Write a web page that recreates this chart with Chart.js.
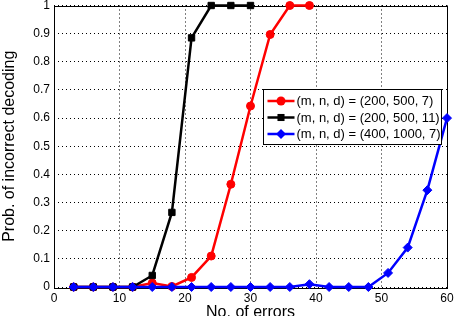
<!DOCTYPE html>
<html>
<head>
<meta charset="utf-8">
<script src="https://cdn.jsdelivr.net/npm/chart.js@4.4.0/dist/chart.umd.min.js"></script>
<style>
  body { margin: 0; background: #fff; }
  canvas { display: block; }
</style>
</head>
<body>
<canvas id="myChart" width="454" height="316"></canvas>
<script>
// number of errors (x) for each measured point
const errors = [3, 6, 9, 12, 15, 18, 21, 24, 27, 30, 33, 36, 39, 42, 45, 48, 51, 54, 57, 60];

const seriesLabels = [
  "(m, n, d) = (200, 500, 7)",
  "(m, n, d) = (200, 500, 11)",
  "(m, n, d) = (400, 1000, 7)",
];

// prob. of incorrect decoding, one list per (m, n, d)
const prob200_500_7 = [0, 0, 0, 0, 0.014, 0.002, 0.034, 0.11, 0.365, 0.643, 0.897, 1, 1];
const prob200_500_11 = [0, 0, 0, 0, 0.041, 0.265, 0.885, 1, 1, 1];
const prob400_1000_7 = [0, 0, 0, 0, 0, 0, 0, 0, 0, 0, 0, 0, 0.01, 0, 0, 0, 0.05, 0.14, 0.344, 0.6];

const FONT = "'Liberation Sans', Arial, Helvetica, sans-serif";
Chart.defaults.font.family = FONT;
Chart.defaults.color = "#000";

function toPoints(vals) {
  return vals.map((v, i) => ({ x: errors[i], y: v }));
}

function drawMarker(ctx, style, x, y, r) {
  ctx.beginPath();
  if (style === "circle") {
    ctx.arc(x, y, r, 0, Math.PI * 2);
  } else if (style === "rect") {
    const s = r * Math.SQRT1_2;
    ctx.rect(x - s, y - s, 2 * s, 2 * s);
  } else {
    ctx.moveTo(x, y - r);
    ctx.lineTo(x + r, y);
    ctx.lineTo(x, y + r);
    ctx.lineTo(x - r, y);
    ctx.closePath();
  }
  ctx.fill();
}

// box around the plot (matlab style)
const frame = {
  id: "frame",
  beforeDatasetsDraw(chart) {
    const { ctx, chartArea: a } = chart;
    ctx.save();
    ctx.strokeStyle = "#000";
    ctx.lineWidth = 1;
    ctx.strokeRect(Math.round(a.left) + 0.5, Math.round(a.top) + 0.5,
      Math.round(a.right - a.left), Math.round(a.bottom - a.top));
    ctx.restore();
  },
};

// legend sitting inside the axes, right side
const legendBox = {
  id: "legendBox",
  afterDraw(chart) {
    const { ctx, chartArea: a } = chart;
    const left = Math.round(a.right - 184) + 0.5;
    const top = Math.round(a.top + 83) + 0.5;
    const w = 178, h = 55;
    ctx.save();
    ctx.fillStyle = "#fff";
    ctx.fillRect(left, top, w, h);
    ctx.strokeStyle = "#000";
    ctx.lineWidth = 1;
    ctx.strokeRect(left, top, w, h);
    ctx.font = "13px " + FONT;
    ctx.textBaseline = "middle";
    ctx.textAlign = "left";
    chart.data.datasets.forEach((ds, i) => {
      const y = top + 11.5 + i * 16.5;
      ctx.strokeStyle = ds.borderColor;
      ctx.lineWidth = 2.5;
      ctx.beginPath();
      ctx.moveTo(left + 4, y);
      ctx.lineTo(left + 31, y);
      ctx.stroke();
      ctx.fillStyle = ds.borderColor;
      drawMarker(ctx, ds.pointStyle, left + 17.5, y, ds.pointRadius + 0.5);
      ctx.fillStyle = "#000";
      ctx.fillText(ds.label, left + 33, y + 0.5);
    });
    ctx.restore();
  },
};

const ctx = document.getElementById("myChart").getContext("2d");
const myChart = new Chart(ctx, {
  type: "line",
  data: {
    datasets: [
      {
        label: seriesLabels[0],
        data: toPoints(prob200_500_7),
        borderColor: "#ff0000",
        backgroundColor: "#ff0000",
        pointStyle: "circle",
        pointRadius: 4,
        order: 2,
      },
      {
        label: seriesLabels[1],
        data: toPoints(prob200_500_11),
        borderColor: "#000000",
        backgroundColor: "#000000",
        pointStyle: "rect",
        pointRadius: 4.5,
        order: 1,
      },
      {
        label: seriesLabels[2],
        data: toPoints(prob400_1000_7),
        borderColor: "#0000ff",
        backgroundColor: "#0000ff",
        pointStyle: "rectRot",
        pointRadius: 4.5,
        order: 0,
      },
    ],
  },
  options: {
    responsive: false,
    animation: false,
    datasets: {
      line: {
        borderWidth: 2.5,
        pointBorderWidth: 1,
        tension: 0,
        clip: false,
      },
    },
    layout: { padding: { top: 3, right: 7, left: 0, bottom: 0 } },
    plugins: {
      legend: { display: false },
      tooltip: { enabled: false },
    },
    scales: {
      x: {
        type: "linear",
        min: 0,
        max: 60,
        ticks: { stepSize: 10, font: { size: 12 }, padding: 4, maxRotation: 0 },
        grid: { color: "#000", lineWidth: 1, drawTicks: false },
        border: { display: false, dash: [1, 3] },
        title: {
          display: true,
          text: "No. of errors",
          font: { size: 16 },
          padding: { top: 0, bottom: -6 },
        },
        afterFit(scale) {
          scale.height = 29;
          scale.paddingLeft = 0;
          scale.paddingRight = 0;
        },
      },
      y: {
        min: 0,
        max: 1,
        ticks: {
          stepSize: 0.1,
          font: { size: 12 },
          padding: 4,
          callback: (v) => String(+v.toFixed(1)),
        },
        grid: { color: "#000", lineWidth: 1, drawTicks: false },
        border: { display: false, dash: [1, 3] },
        title: {
          display: true,
          text: "Prob. of incorrect decoding",
          font: { size: 16 },
          padding: { top: 0, bottom: 0 },
        },
        afterFit(scale) {
          scale.width = 54;
          scale.paddingTop = 0;
          scale.paddingBottom = 0;
        },
      },
    },
  },
  plugins: [frame, legendBox],
});
</script>
</body>
</html>
